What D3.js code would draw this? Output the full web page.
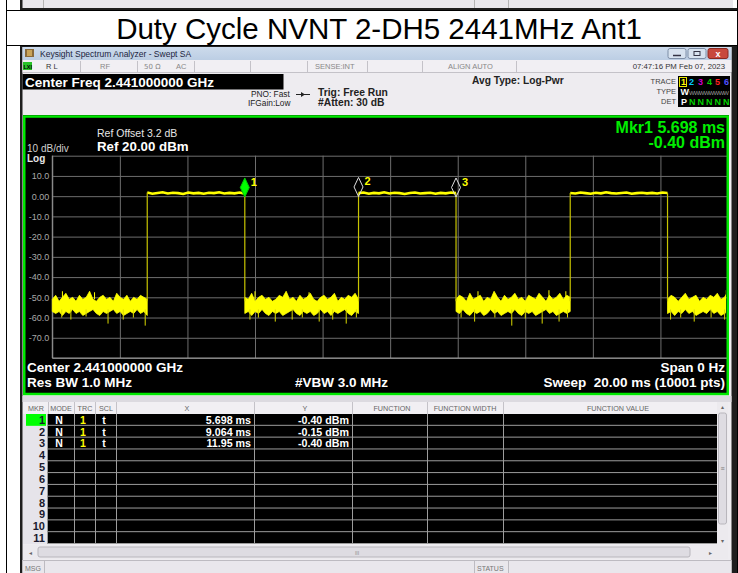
<!DOCTYPE html>
<html>
<head>
<meta charset="utf-8">
<script src="https://cdn.jsdelivr.net/npm/d3@7"></script>
<style>
html, body { margin: 0; padding: 0; background: #fff; }
svg { display: block; font-family: "Liberation Sans", Arial, sans-serif; }
</style>
</head>
<body>
<svg id="chart" width="738" height="573"></svg>
<script>
var title = "Duty Cycle NVNT 2-DH5 2441MHz Ant1";

var yGrid = [20, 10, 0, -10, -20, -30, -40, -50, -60, -70, -80];          // dBm
var yTickLabels = {10: "10.0", 0: "0.00", "-10": "-10.0", "-20": "-20.0", "-30": "-30.0",
                   "-40": "-40.0", "-50": "-50.0", "-60": "-60.0", "-70": "-70.0"};
var xGrid = [0, 2, 4, 6, 8, 10, 12, 14, 16, 18, 20];                        // ms

// burst on/off times (ms)
var bursts = [[2.81, 5.698], [9.064, 11.95], [15.33, 18.21]];
var burst1 = [1.8, 1.2, 1.6, 1.9, 1.3, 1.7, 1.5, 1.1, 1.8, 1.4, 1.6, 1.2, 1.7, 1.5, 1.9, 1.3, 1.6, 1.4, 1.8, 1.2];
var burst2 = [1.5, 1.8, 1.2, 1.6, 1.4, 1.9, 1.3, 1.7, 1.5, 1.1, 1.6, 1.8, 1.3, 1.5, 1.7, 1.2, 1.6, 1.4, 1.8, 1.5];
var burst3 = [1.6, 1.3, 1.8, 1.5, 1.2, 1.7, 1.4, 1.9, 1.5, 1.3, 1.6, 1.8, 1.2, 1.5, 1.7, 1.4, 1.6, 1.3, 1.8, 1.6];

// noise floor between bursts: upper / lower edge of the yellow band (dBm)
var noiseSpans = [[0, 2.81], [5.698, 9.064], [11.95, 15.33], [18.21, 20]];
var noiseHi1 = [-51,-49,-52,-50,-48,-51,-50,-52,-49,-51,-50,-47,-51,-52,-50,-49,-51,-50,-52,-48,-50,-51,-49,-52,-50,-51,-49,-50,-51];
var noiseLo1 = [-57,-58,-57,-59,-57,-58,-56,-58,-57,-59,-58,-57,-56,-58,-59,-57,-58,-57,-56,-58,-57,-59,-58,-57,-58,-56,-58,-57,-59];
var noiseHi2 = [-50,-51,-48,-52,-50,-49,-51,-50,-52,-51,-49,-50,-47,-51,-50,-52,-49,-51,-50,-48,-51,-52,-50,-49,-51,-50,-48,-52,-50,-51,-49,-50,-48,-51];
var noiseLo2 = [-58,-57,-59,-57,-58,-56,-58,-59,-57,-58,-57,-59,-58,-57,-56,-58,-59,-57,-58,-57,-59,-58,-56,-58,-57,-59,-57,-58,-57,-56,-58,-59,-57,-58];
var noiseHi3 = [-51,-49,-50,-52,-48,-51,-50,-49,-52,-50,-51,-47,-50,-52,-49,-51,-50,-48,-51,-50,-52,-49,-50,-51,-48,-50,-52,-49,-51,-50,-48,-51,-49,-50];
var noiseLo3 = [-57,-58,-56,-58,-59,-57,-58,-57,-59,-58,-56,-58,-57,-59,-58,-57,-58,-56,-58,-59,-57,-58,-57,-59,-58,-57,-56,-58,-57,-59,-58,-57,-58,-57];
var noiseHi4 = [-51,-49,-50,-52,-50,-48,-51,-50,-49,-52,-50,-51,-49,-50,-48,-51,-50,-47];
var noiseLo4 = [-58,-57,-59,-57,-58,-56,-58,-57,-59,-58,-57,-58,-56,-58,-57,-59,-58,-57];

// single-sample spikes [ms, dBm]
var spikesDown = [[0.28,-60],[0.55,-61],[1.0,-59.5],[1.65,-63],[2.1,-61],[2.4,-60],[2.75,-64],
                  [5.85,-61],[6.1,-60],[6.6,-62],[7.1,-61],[7.4,-60],[7.9,-62],[8.3,-61],[8.7,-63],[9.0,-60],
                  [12.1,-60],[12.5,-62],[13.1,-60],[13.6,-64],[14.0,-60.5],[14.5,-63],[15.0,-62],[15.25,-60],
                  [18.3,-61],[18.6,-60],[19.0,-62],[19.5,-60],[19.9,-61]];
var spikesUp = [[0.3,-47],[1.25,-47.5],[6.0,-47],[7.6,-47.5],[12.6,-47],[14.7,-46.5],[15.2,-47],[19.95,-46.5]];

// markers
var mkrNames = ["1", "2", "3"];
var mkrX = [5.698, 9.064, 11.95];
var mkrY = [-0.40, -0.15, -0.40];
var mkrXText = ["5.698 ms", "9.064 ms", "11.95 ms"];
var mkrYText = ["-0.40 dBm", "-0.15 dBm", "-0.40 dBm"];
var tableRows = ["1", "2", "3", "4", "5", "6", "7", "8", "9", "10", "11"];

// ---- drawing ----
var svg = d3.select("#chart");

function txt(g, x, y, s, size, color, weight, anchor) {
    return g.append("text").attr("x", x).attr("y", y).text(s)
        .attr("font-size", size).attr("fill", color)
        .attr("font-weight", weight || "normal")
        .attr("text-anchor", anchor || "start");
}
function rect(g, x, y, w, h, fill) {
    return g.append("rect").attr("x", x).attr("y", y).attr("width", w).attr("height", h).attr("fill", fill);
}
function line(g, x1, y1, x2, y2, color, w) {
    return g.append("line").attr("x1", x1).attr("y1", y1).attr("x2", x2).attr("y2", y2)
        .attr("stroke", color).attr("stroke-width", w || 1);
}

// previous screen shot (bottom edge) and report table lines
rect(svg, 20, 0, 713, 8, "#e9e7ec");
rect(svg, 20, 8, 717, 2.5, "#1e1e1e");
rect(svg, 20, 0, 2.5, 10, "#1e1e1e");
[43, 474, 508].forEach(function (x) { line(svg, x + 0.5, 0, x + 0.5, 8, "#b4b4b4"); });
line(svg, 6, 10.5, 738, 10.5, "#000");
line(svg, 6, 45.5, 738, 45.5, "#000");
line(svg, 6.5, 0, 6.5, 573, "#000");
line(svg, 737.5, 0, 737.5, 573, "#000");

txt(svg, 379, 39, title, 29.5, "#000", "normal", "middle");

// analyzer window
rect(svg, 20, 46, 717, 527, "#1e1e1e");
rect(svg, 22.5, 47, 709, 526, "#eeecf0");

var grad = svg.append("defs").append("linearGradient").attr("id", "tb")
    .attr("x1", 0).attr("y1", 0).attr("x2", 0).attr("y2", 1);
grad.append("stop").attr("offset", 0).attr("stop-color", "#cddbec");
grad.append("stop").attr("offset", 1).attr("stop-color", "#bccee4");
rect(svg, 22.5, 47, 709, 13, "url(#tb)");
rect(svg, 25, 49, 9, 8, "#8a6a3a");
rect(svg, 27, 50, 5, 6, "#c9a45a");
txt(svg, 40, 57, "Keysight Spectrum Analyzer - Swept SA", 8.5, "#1c2440");
// window buttons
rect(svg, 668, 48.5, 18, 10, "#d7e2ef").attr("stroke", "#7d8ea6").attr("rx", 2);
line(svg, 673, 55.5, 681, 55.5, "#334", 1.5);
rect(svg, 688, 48.5, 18, 10, "#d7e2ef").attr("stroke", "#7d8ea6").attr("rx", 2);
rect(svg, 694, 51.5, 6, 4, "none").attr("stroke", "#334");
rect(svg, 708, 48.5, 20, 10, "#c8493d").attr("stroke", "#8a2a22").attr("rx", 2);
txt(svg, 718, 57, "x", 9, "#fff", "bold", "middle");

// status row
rect(svg, 22.5, 60, 709, 12, "#f1eff3");
line(svg, 22.5, 72.5, 731, 72.5, "#c4c2c8");
rect(svg, 23, 62, 9, 8, "#27c227");
txt(svg, 23.5, 69, "LXI", 5.5, "#000", "bold");
[80, 137, 194, 250, 307, 367, 422, 516].forEach(function (x) {
    line(svg, x + 0.5, 61, x + 0.5, 72, "#c4c2c8");
});
txt(svg, 46, 69, "R L", 7.5, "#333");
txt(svg, 100, 69, "RF", 7.5, "#888");
txt(svg, 144, 69, "50 \u03A9", 7.5, "#888", "normal").attr("font-family", "DejaVu Sans, sans-serif").attr("font-size", 7);
txt(svg, 176, 69, "AC", 7.5, "#888");
txt(svg, 315, 69, "SENSE:INT", 7.5, "#888");
txt(svg, 448, 69, "ALIGN AUTO", 7.5, "#888");
txt(svg, 725, 69, "07:47:16 PM Feb 07, 2023", 7.8, "#333", "normal", "end");

// settings panel
rect(svg, 22.5, 74, 261, 15.5, "#000");
txt(svg, 25, 86.5, "Center Freq 2.441000000 GHz", 13.5, "#fff", "bold");
txt(svg, 251, 97, "PNO: Fast", 8.3, "#222");
txt(svg, 248, 106, "IFGain:Low", 8.3, "#222");
line(svg, 296, 94.5, 310, 94.5, "#222");
svg.append("path").attr("d", "M301,92 L305,94.5 L301,97 Z").attr("fill", "#222");
txt(svg, 318, 96, "Trig: Free Run", 10.3, "#222", "bold");
txt(svg, 318, 106, "#Atten: 30 dB", 10.3, "#222", "bold");
txt(svg, 472, 84, "Avg Type: Log-Pwr", 10.2, "#222", "bold");
txt(svg, 676, 84, "TRACE", 7.5, "#444", "normal", "end");
txt(svg, 676, 94, "TYPE", 7.5, "#444", "normal", "end");
txt(svg, 676, 104, "DET", 7.5, "#444", "normal", "end");
rect(svg, 678, 76, 52, 31, "#000");
rect(svg, 679.5, 77.5, 7, 9, "none").attr("stroke", "#e8e800");
var trColors = ["#ffff00", "#00ccff", "#d000d0", "#00d000", "#ff2020", "#5050ff"];
[681, 689, 698, 707, 715, 724].forEach(function (x, i) {
    txt(svg, x, 85, String(i + 1), 9, trColors[i], "bold");
});
txt(svg, 680.5, 95, "W", 9, "#fff", "bold");
txt(svg, 689, 94.5, "WWWWWWWW", 6, "#9a9a9a", "normal").attr("textLength", 40);
txt(svg, 681, 105, "P", 9, "#fff", "bold");
[689, 697.5, 706, 714.5, 723].forEach(function (x) { txt(svg, x, 105, "N", 9, "#00d000", "bold"); });

// graph area
rect(svg, 23, 115, 706, 280, "#000");
var x = d3.scaleLinear().domain([0, 20]).range([52.3, 728]);
var y = d3.scaleLinear().domain([-80, 20]).range([358, 155.7]);

svg.append("defs").append("clipPath").attr("id", "plotClip")
    .append("rect").attr("x", 26).attr("y", 119).attr("width", 700).attr("height", 273);

var gy = svg.append("g").attr("transform", "translate(" + x(0) + ",0)")
    .call(d3.axisLeft(y).tickValues(yGrid).tickSize(-(x(20) - x(0))).tickPadding(3)
        .tickFormat(function (d) { return yTickLabels[d] || ""; }));
gy.select(".domain").remove();
gy.selectAll("line").attr("stroke", "#6e6e6e");
gy.selectAll("text").attr("fill", "#a8a8a8").attr("font-size", 9)
    .attr("font-family", "Liberation Sans, Arial, sans-serif");

var gx = svg.append("g").attr("transform", "translate(0," + y(-80) + ")")
    .call(d3.axisBottom(x).tickValues(xGrid).tickSize(-(y(-80) - y(20))).tickFormat(""));
gx.select(".domain").remove();
gx.selectAll("line").attr("stroke", "#6e6e6e");
line(svg, x(0), y(20), x(0), y(-80), "#9a9a9a");
line(svg, x(0), y(-80), x(20), y(-80), "#9a9a9a");

var plot = svg.append("g").attr("clip-path", "url(#plotClip)");

// noise floor band
var noiseHi = [noiseHi1, noiseHi2, noiseHi3, noiseHi4];
var noiseLo = [noiseLo1, noiseLo2, noiseLo3, noiseLo4];
var area = d3.area().x(function (d) { return x(d.t); })
    .y0(function (d) { return y(d.lo); }).y1(function (d) { return y(d.hi); });
noiseSpans.forEach(function (s, k) {
    var hi = noiseHi[k], lo = noiseLo[k], n = hi.length;
    var pts = hi.map(function (v, i) {
        return { t: s[0] + i * (s[1] - s[0]) / (n - 1), hi: v, lo: lo[i] };
    });
    plot.append("path").datum(pts).attr("d", area)
        .attr("fill", "#ffff00").attr("stroke", "#ffff00").attr("stroke-width", 0.8);
});
plot.selectAll(".sd").data(spikesDown).enter().append("line")
    .attr("x1", function (d) { return x(d[0]); }).attr("x2", function (d) { return x(d[0]); })
    .attr("y1", y(-56)).attr("y2", function (d) { return y(d[1]); })
    .attr("stroke", "#d8d800").attr("stroke-width", 1);
plot.selectAll(".su").data(spikesUp).enter().append("line")
    .attr("x1", function (d) { return x(d[0]); }).attr("x2", function (d) { return x(d[0]); })
    .attr("y1", y(-51)).attr("y2", function (d) { return y(d[1]); })
    .attr("stroke", "#ffff00").attr("stroke-width", 1);

// bursts
var burstVals = [burst1, burst2, burst3];
var ln = d3.line().x(function (d) { return x(d.t); }).y(function (d) { return y(d.v); });
bursts.forEach(function (b, k) {
    var vals = burstVals[k], n = vals.length;
    var pts = vals.map(function (v, i) { return { t: b[0] + i * (b[1] - b[0]) / (n - 1), v: v }; });
    plot.append("path").datum(pts).attr("d", ln)
        .attr("fill", "none").attr("stroke", "#ffff00").attr("stroke-width", 2.6);
    // rising and falling edges
    [[b[0], vals[0]], [b[1], vals[n - 1]]].forEach(function (e) {
        plot.append("line").attr("x1", x(e[0])).attr("x2", x(e[0]))
            .attr("y1", y(-52)).attr("y2", y(e[1]))
            .attr("stroke", "#c8c400").attr("stroke-width", 1.2);
    });
});

// markers
mkrNames.forEach(function (m, i) {
    var px = x(mkrX[i]), py = y(mkrY[i]);
    svg.append("path").attr("d", "M" + px + "," + py + " l4.5,-9.5 l-4.5,-9.5 l-4.5,9.5 Z")
        .attr("fill", i === 0 ? "#00ff00" : "none")
        .attr("stroke", i === 0 ? "#00c800" : "#e0e0e0").attr("stroke-width", 1);
    txt(svg, px + 6, py - 11, m, 11, "#ffff00", "bold");
});

// annotations in graph
txt(svg, 97, 137, "Ref Offset 3.2 dB", 10.5, "#e6e6e6");
txt(svg, 97, 151, "Ref 20.00 dBm", 13.3, "#fff", "bold");
txt(svg, 27, 151.5, "10 dB/div", 10, "#cfcfcf");
txt(svg, 27, 161.5, "Log", 10, "#e6e6e6", "bold");
txt(svg, 725, 133, "Mkr1 5.698 ms", 16, "#00ee00", "bold", "end");
txt(svg, 725, 148, "-0.40 dBm", 16, "#00ee00", "bold", "end");
txt(svg, 27, 372, "Center 2.441000000 GHz", 13.5, "#fff", "bold");
txt(svg, 27, 387, "Res BW 1.0 MHz", 13.5, "#fff", "bold");
txt(svg, 295, 387, "#VBW 3.0 MHz", 13.5, "#fff", "bold");
txt(svg, 725, 372, "Span 0 Hz", 13.5, "#fff", "bold", "end");
txt(svg, 725, 387, "Sweep\u00A0\u00A020.00 ms (10001 pts)", 13.5, "#fff", "bold", "end");

svg.append("rect").attr("x", 24.25).attr("y", 116.5).attr("width", 703.5).attr("height", 277.5)
    .attr("fill", "none").attr("stroke", "#00e800").attr("stroke-width", 2.5);

// marker table
rect(svg, 22.5, 396, 709, 6, "#dcdae0");
rect(svg, 23, 402, 705, 12, "#f1eff3");
var colSep = [48, 74, 95, 116, 254, 352, 427, 503, 717];
colSep.forEach(function (c) { line(svg, c + 0.5, 402, c + 0.5, 414, "#c4c2c8"); });
[["MKR", 36], ["MODE", 61], ["TRC", 85], ["SCL", 106], ["X", 187], ["Y", 305],
 ["FUNCTION", 392], ["FUNCTION WIDTH", 465], ["FUNCTION VALUE", 618]].forEach(function (h) {
    txt(svg, h[1], 411, h[0], 7.2, "#666", "normal", "middle");
});

var rowY = d3.scaleBand().domain(tableRows).range([414, 544]);
rect(svg, 47, 414, 670, 130, "#000");
rect(svg, 23, 414, 24, 130, "#e6e4ea");
var rows = svg.selectAll(".row").data(tableRows).enter().append("g")
    .attr("transform", function (d) { return "translate(0," + rowY(d) + ")"; });
rows.append("line").attr("x1", 47).attr("x2", 717).attr("y1", rowY.bandwidth() - 0.5)
    .attr("y2", rowY.bandwidth() - 0.5).attr("stroke", "#9c9c9c");
rows.filter(function (d, i) { return i === 0; }).append("rect")
    .attr("x", 26).attr("y", 0).attr("width", 20).attr("height", rowY.bandwidth()).attr("fill", "#00ff00");
rows.append("text").attr("x", 45).attr("y", rowY.bandwidth() - 2).text(function (d) { return d; })
    .attr("font-size", 11).attr("font-weight", "bold").attr("fill", "#1a1a2e").attr("text-anchor", "end");
colSep.slice(1, 8).forEach(function (c) { line(svg, c + 0.5, 414, c + 0.5, 544, "#9c9c9c"); });
line(svg, 47.5, 414, 47.5, 544, "#9c9c9c");

var used = rows.filter(function (d, i) { return i < mkrNames.length; });
used.append("text").attr("x", 59).attr("y", rowY.bandwidth() - 2).text("N")
    .attr("font-size", 10.5).attr("font-weight", "bold").attr("fill", "#fff").attr("text-anchor", "middle");
used.append("text").attr("x", 83).attr("y", rowY.bandwidth() - 2).text("1")
    .attr("font-size", 10.5).attr("font-weight", "bold").attr("fill", "#ffff00").attr("text-anchor", "middle");
used.append("text").attr("x", 104).attr("y", rowY.bandwidth() - 2).text("t")
    .attr("font-size", 10.5).attr("font-weight", "bold").attr("fill", "#fff").attr("text-anchor", "middle");
used.append("text").attr("x", 251).attr("y", rowY.bandwidth() - 2).text(function (d, i) { return mkrXText[i]; })
    .attr("font-size", 10.7).attr("font-weight", "bold").attr("fill", "#fff").attr("text-anchor", "end");
used.append("text").attr("x", 349).attr("y", rowY.bandwidth() - 2).text(function (d, i) { return mkrYText[i]; })
    .attr("font-size", 10.7).attr("font-weight", "bold").attr("fill", "#fff").attr("text-anchor", "end");

// scroll bars
rect(svg, 717, 402, 11, 143, "#eceaee");
rect(svg, 718.5, 413, 8, 111, "#dedce2").attr("stroke", "#b8b6bc").attr("rx", 2);
txt(svg, 722.5, 409, "\u25B4", 6, "#666", "normal", "middle");
txt(svg, 722.5, 543, "\u25BE", 6, "#666", "normal", "middle");
txt(svg, 722.5, 471, "\u2261", 7, "#777", "normal", "middle");
rect(svg, 23, 545, 705, 14, "#eceaee");
rect(svg, 38, 547, 652, 10, "#dedce2").attr("stroke", "#b8b6bc").attr("rx", 2);
txt(svg, 30, 555, "\u25C2", 6, "#666", "normal", "middle");
txt(svg, 710, 555, "\u25B8", 6, "#666", "normal", "middle");
txt(svg, 357, 555, "III", 5, "#888", "normal", "middle");

// message bar
rect(svg, 22.5, 560, 709, 13, "#e9e7ec");
line(svg, 22.5, 560.5, 731, 560.5, "#bdbbc1");
txt(svg, 25, 570.5, "MSG", 7, "#777");
line(svg, 44.5, 561, 44.5, 573, "#bdbbc1");
line(svg, 474.5, 561, 474.5, 573, "#bdbbc1");
line(svg, 508.5, 561, 508.5, 573, "#bdbbc1");
txt(svg, 477, 570.5, "STATUS", 7, "#777");
</script>
</body>
</html>
